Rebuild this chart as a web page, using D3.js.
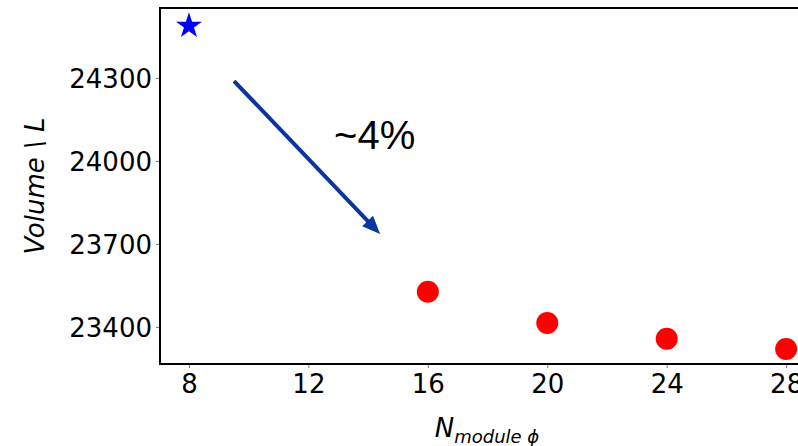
<!DOCTYPE html>
<html>
<head>
<meta charset="utf-8">
<script src="https://cdn.jsdelivr.net/npm/d3@7"></script>
<style>
  html, body { margin: 0; padding: 0; background: #fff; }
  svg { display: block; }
</style>
</head>
<body>
<svg id="chart" width="798" height="446"></svg>
<script>
// Module count along phi vs. total volume
const baselineN = [8];
const baselineVolume = [24488];
const modulesN = [16, 20, 24, 28];
const modulesVolume = [23527, 23414, 23357, 23320];
const xTicks = [8, 12, 16, 20, 24, 28];
const yTicks = [23400, 23700, 24000, 24300];
// Annotation arrow (data coordinates) and its label
const arrowFrom = [9.51, 24289];
const arrowTo = [14.40, 23736];
const arrowLabel = "~4%";
const arrowLabelAt = [12.86, 24043];

const svg = d3.select("#chart");
const plot = { left: 160, top: 8, bottom: 364, right: 816 };

const x = d3.scaleLinear().domain([7.03, 29]).range([plot.left, plot.right]);
const y = d3.scaleLinear().domain([23266, 24553]).range([plot.bottom, plot.top]);

const font = "'DejaVu Sans', sans-serif";

// Axes
const xAxis = svg.append("g")
  .attr("transform", `translate(0,${plot.bottom})`)
  .call(d3.axisBottom(x).tickValues(xTicks).tickSize(4).tickPadding(7).tickFormat(d3.format("d")));
const yAxis = svg.append("g")
  .attr("transform", `translate(${plot.left},0)`)
  .call(d3.axisLeft(y).tickValues(yTicks).tickSize(4).tickPadding(4).tickFormat(d3.format("d")));

[xAxis, yAxis].forEach(a => {
  a.select(".domain").remove();
  a.selectAll(".tick line").attr("stroke", "#777").attr("stroke-width", 1);
  a.selectAll(".tick text").attr("fill", "#000").style("font-family", font).style("font-size", "26px");
});
xAxis.selectAll(".tick text").attr("dy", "0.71em");
yAxis.selectAll(".tick text").attr("dy", "0.36em");

// Frame (top, left, bottom; right side extends past the view)
svg.append("path")
  .attr("d", `M${plot.right},${plot.top}H${plot.left}V${plot.bottom}H${plot.right}`)
  .attr("fill", "none").attr("stroke", "#000").attr("stroke-width", 2);

// Baseline point: star
const star = d3.symbol().type(d3.symbolStar).size(210);
svg.selectAll(".star").data(baselineN.map((n, i) => [n, baselineVolume[i]]))
  .join("path")
  .attr("class", "star")
  .attr("d", star)
  .attr("transform", d => `translate(${x(d[0])},${y(d[1])})`)
  .attr("fill", "#0000ff");

// Module configurations: red circles
svg.selectAll(".pt").data(modulesN.map((n, i) => [n, modulesVolume[i]]))
  .join("circle")
  .attr("class", "pt")
  .attr("cx", d => x(d[0]))
  .attr("cy", d => y(d[1]))
  .attr("r", 11)
  .attr("fill", "#ff0000");

// Arrow annotation
const ax0 = x(arrowFrom[0]), ay0 = y(arrowFrom[1]);
const ax1 = x(arrowTo[0]), ay1 = y(arrowTo[1]);
const ang = Math.atan2(ay1 - ay0, ax1 - ax0);
const headLen = 18, headHalf = 7.5;
const bx = ax1 - headLen * Math.cos(ang), by = ay1 - headLen * Math.sin(ang);
const arrowColor = "#0a34a0";
svg.append("line")
  .attr("x1", ax0).attr("y1", ay0)
  .attr("x2", bx + 2 * Math.cos(ang)).attr("y2", by + 2 * Math.sin(ang))
  .attr("stroke", arrowColor).attr("stroke-width", 4);
svg.append("path")
  .attr("d", `M${ax1},${ay1}L${bx - headHalf * Math.sin(ang)},${by + headHalf * Math.cos(ang)}L${bx + headHalf * Math.sin(ang)},${by - headHalf * Math.cos(ang)}Z`)
  .attr("fill", arrowColor);

svg.append("text")
  .attr("x", x(arrowLabelAt[0])).attr("y", y(arrowLabelAt[1]))
  .style("font-family", "'Liberation Sans', Arial, sans-serif")
  .style("font-size", "40px")
  .attr("fill", "#000")
  .text(arrowLabel);

// Axis titles
svg.append("text")
  .attr("transform", `translate(44,186) rotate(-90)`)
  .attr("text-anchor", "middle")
  .style("font-family", font).style("font-size", "26px").style("font-style", "italic")
  .text("Volume \\ L");

const xt = svg.append("text")
  .attr("x", 487).attr("y", 437)
  .attr("text-anchor", "middle")
  .style("font-family", font).style("font-style", "italic");
xt.append("tspan").style("font-size", "26px").text("N");
xt.append("tspan").style("font-size", "18px").attr("dy", 6).text("module ϕ");
</script>
</body>
</html>
